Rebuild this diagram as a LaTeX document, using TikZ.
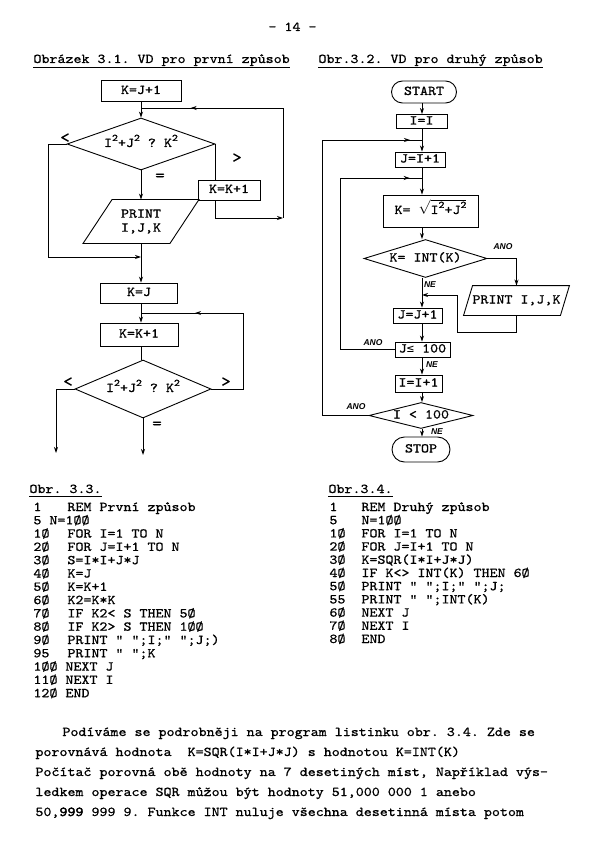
\documentclass[tikz,border=0pt]{standalone}
\usepackage{fontspec}
\setmainfont{lmmono10-regular.otf}[Ligatures=TeXOff, FakeBold=0.8, FakeStretch=1.13]
\setmonofont{lmmono10-regular.otf}[Ligatures=TeXOff, FakeBold=0.8, FakeStretch=1.13]
\newfontfamily\boldmono{lmmono10-regular.otf}[Ligatures=TeXOff, FakeBold=3, FakeStretch=1.13]
\newfontfamily\handfont{Liberation Sans}
\newfontfamily\symfont{DejaVu Sans Mono}
\usetikzlibrary{shapes.geometric,arrows.meta,decorations.markings}
\newcommand\supx[1]{\raisebox{0.45em}{\fontsize{10}{10}\selectfont #1}}
\frenchspacing
\begin{document}
\begin{tikzpicture}[x=1pt,y=-1pt,line width=0.9pt,
  every node/.style={font=\fontsize{13.5}{15}\selectfont},
  lbl/.style={anchor=west, inner sep=0pt, text height=0.6em, text depth=0pt},
  rbox/.style={draw, rectangle, inner sep=0pt, text height=0.6em, text depth=0pt},
  term/.style={rbox, rounded corners=#1},
  dia/.style={draw, diamond, inner sep=0pt, aspect=3, text height=0.6em, text depth=0pt},
  ghost/.style={rectangle, inner sep=0pt},
  hand/.style={inner sep=0pt, font=\handfont\bfseries\itshape\fontsize{8.5}{9}\selectfont},
  sign/.style={inner sep=0pt, font=\fontsize{16}{16}\selectfont},
  arr/.style={-{Stealth[length=6pt,width=4pt]}},
  midarrow/.style={postaction={decorate}, decoration={markings, mark=at position #1 with {\arrow{Stealth[length=6pt,width=4pt]}}}}]
\path[fill=white, use as bounding box] (0,0) rectangle (600,842);

% header and titles
\node[lbl] (pg) at (268,28) {- 14 -};
\node[lbl] (t1) at (33,60) {Obrázek 3.1. VD pro první způsob};
\node[lbl] (t2) at (318,60) {Obr.3.2. VD pro druhý způsob};
\draw[line width=0.8pt] ([yshift=-3.5pt]t1.south west) -- ([yshift=-3.5pt]t1.south east);
\draw[line width=0.8pt] ([yshift=-3.5pt]t2.south west) -- ([yshift=-3.5pt]t2.south east);

% ===== left flowchart =====
\node[rbox, minimum width=80pt, minimum height=21pt] (a1) at (141,91) {K=J+1};
\node[dia, minimum width=148pt, minimum height=52pt] (d1) at (141,144) {I\supx{2}+J\supx{2} ? K\supx{2}};
\node[rbox, minimum width=62pt, minimum height=20pt] (b2) at (229,190) {K=K+1};
\node[ghost, minimum width=86pt, minimum height=43pt, align=center, font=\fontsize{13.5}{14}\selectfont] (p1) at (141,221.5) {PRINT\\I,J,K};
\draw ([xshift=14.5pt]p1.north west) -- ([xshift=14.5pt]p1.north east) -- ([xshift=-14.5pt]p1.south east) -- ([xshift=-14.5pt]p1.south west) -- cycle;
\node[rbox, minimum width=77pt, minimum height=20pt] (b3) at (139,293) {K=J};
\node[rbox, minimum width=78pt, minimum height=23pt] (b4) at (139,334.5) {K=K+1};
\node[dia, minimum width=136pt, minimum height=58pt] (d2) at (143,389) {I\supx{2}+J\supx{2} ? K\supx{2}};

\coordinate (m1) at (141,108);
\coordinate (r1) at (283,218);
\coordinate (l1) at (48,257);
\coordinate (r2) at (243,313);
\coordinate (e1) at (141,455);
\coordinate (e2) at (56,453);

\draw[arr] (a1.south) -- (d1.north);
\draw[arr] (d1.south) -- (p1.north);
\draw (d1.east) -- (d1.east |- b2.north);
\draw[arr] (d1.east |- b2.south) |- (r1);
\draw (r1) -- (r1 |- m1);
\draw[midarrow=0.65] (r1 |- m1) -- (m1);
\draw (d1.west) -| (l1);
\draw[arr] (l1) -- (l1 -| p1.south);
\draw[arr] (p1.south) -- (p1.south |- b3.north);
\draw[arr] (p1.south |- b3.south) -- (p1.south |- b4.north);
\draw (p1.south |- b4.south) -- (p1.south |- d2.north);
\draw (d2.east) -| (r2);
\draw[midarrow=0.47] (r2) -- (r2 -| p1.south);
\draw[arr] (d2.south) -- (d2.south |- e1);
\draw[arr] (d2.west) -| (e2);

\node[sign] (lt1) at (65,138) {<};
\node[sign] (gt1) at (237,158) {>};
\node[sign] (eq1) at (160,177) {=};
\node[sign] (lt2) at (68,382) {<};
\node[sign] (gt2) at (226,382) {>};
\node[sign] (eq2) at (157,425) {=};

% ===== right flowchart =====
\coordinate (col) at (422,0);
\node[term=11pt, minimum width=65pt, minimum height=22pt] (s1) at (424,92) {START};
\node[rbox, minimum width=51pt, minimum height=14pt] (i1) at (421.5,121.5) {I=I};
\node[rbox, minimum width=50pt, minimum height=15pt] (j1) at (420,159.5) {J=I+1};
\node[rbox, minimum width=95pt, minimum height=32pt] (k1) at (430.5,211) {K= $\sqrt{\mbox{I\supx{2}+J\supx{2}}}$};
\node[dia, minimum width=123pt, minimum height=38pt] (d3) at (425.5,258.5) {K= INT(K)};
\node[ghost, minimum width=96pt, minimum height=29pt, text height=0.6em, text depth=0pt] (p2) at (516.5,300.5) {PRINT I,J,K};
\draw ([xshift=4.5pt]p2.north west) -- ([xshift=4.5pt]p2.north east) -- ([xshift=-4.5pt]p2.south east) -- ([xshift=-4.5pt]p2.south west) -- cycle;
\node[rbox, minimum width=49pt, minimum height=15pt] (j2) at (417.5,315.5) {J=J+1};
\node[rbox, minimum width=55pt, minimum height=15pt] (j3) at (422.5,349.5) {J{\symfont\fontsize{12}{12}\selectfont ≤} 100};
\node[rbox, minimum width=47pt, minimum height=17pt] (i2) at (418.5,383.5) {I=I+1};
\node[dia, minimum width=104pt, minimum height=26pt] (d4) at (421,415.5) {I < 100};
\node[term=12.5pt, minimum width=58pt, minimum height=25pt] (s2) at (421,449.5) {STOP};

\coordinate (q1) at (457,332);
\coordinate (q2) at (457,295);
\coordinate (o1) at (322,140);
\coordinate (o2) at (340,178);

\draw[arr] (col |- s1.south) -- (col |- i1.north);
\draw[arr] (col |- i1.south) -- (col |- j1.north);
\draw[arr] (col |- j1.south) -- (col |- k1.north);
\draw[arr] (col |- k1.south) -- (col |- d3.north);
\draw[arr] (col |- d3.south) -- (col |- j2.north);
\draw[arr] (col |- j2.south) -- (col |- j3.north);
\draw[arr] (col |- j3.south) -- (col |- i2.north);
\draw[arr] (col |- i2.south) -- (col |- d4.north);
\draw[arr] (col |- d4.south) -- (col |- s2.north);
\draw[arr] (d3.east) -| (p2.north);
\draw (p2.south) |- (q1) -- (q2);
\draw[arr] (q2) -- (col |- q2);
\draw (d4.west) -| (o1);
\draw[midarrow=0.88] (o1) -- (col |- o1);
\draw (j3.west) -| (o2);
\draw[midarrow=0.85] (o2) -- (col |- o2);

\node[hand] (h1) at (503,247) {ANO};
\node[hand] (h2) at (430,285) {NE};
\node[hand] (h3) at (373,343) {ANO};
\node[hand] (h4) at (432,365) {NE};
\node[hand] (h5) at (356,407) {ANO};
\node[hand] (h6) at (437,432) {NE};

% ===== listings =====
\node[lbl] (o33) at (29,490) {Obr. 3.3.};
\draw[line width=0.8pt] ([yshift=-3pt]o33.south west) -- ([yshift=-3pt]o33.south east);
\node[lbl] (o34) at (328,490) {Obr.3.4.};
\draw[line width=0.8pt] ([yshift=-3pt]o34.south west) -- ([yshift=-3pt]o34.south east);

\node[lbl] (ln0) at (33,508) {1};      \node[lbl] (ls0) at (67,508) {REM První způsob};
\node[lbl] (ln1) at (33,521.3) {5 N=1ØØ};
\node[lbl] (ln2) at (33,534.6) {1Ø};   \node[lbl] (ls2) at (67,534.6) {FOR I=1 TO N};
\node[lbl] (ln3) at (33,547.9) {2Ø};   \node[lbl] (ls3) at (67,547.9) {FOR J=I+1 TO N};
\node[lbl] (ln4) at (33,561.2) {3Ø};   \node[lbl] (ls4) at (67,561.2) {S=I*I+J*J};
\node[lbl] (ln5) at (33,574.5) {4Ø};   \node[lbl] (ls5) at (67,574.5) {K=J};
\node[lbl] (ln6) at (33,587.8) {5Ø};   \node[lbl] (ls6) at (67,587.8) {K=K+1};
\node[lbl] (ln7) at (33,601.1) {6Ø};   \node[lbl] (ls7) at (67,601.1) {K2=K*K};
\node[lbl] (ln8) at (33,614.4) {7Ø};   \node[lbl] (ls8) at (67,614.4) {IF K2< S THEN 5Ø};
\node[lbl] (ln9) at (33,627.7) {8Ø};   \node[lbl] (ls9) at (67,627.7) {IF K2> S THEN 1ØØ};
\node[lbl] (ln10) at (33,641) {9Ø};    \node[lbl] (ls10) at (67,641) {PRINT " ";I;" ";J;)};
\node[lbl] (ln11) at (33,654.3) {95};  \node[lbl] (ls11) at (67,654.3) {PRINT " ";K};
\node[lbl] (ln12) at (33,667.6) {1ØØ NEXT J};
\node[lbl] (ln13) at (33,680.9) {11Ø NEXT I};
\node[lbl] (ln14) at (33,694.2) {12Ø END};

\node[lbl] (rn0) at (329,508) {1};     \node[lbl] (rs0) at (361,508) {REM Druhý způsob};
\node[lbl] (rn1) at (329,521.2) {5};   \node[lbl] (rs1) at (361,521.2) {N=1ØØ};
\node[lbl] (rn2) at (329,534.4) {1Ø};  \node[lbl] (rs2) at (361,534.4) {FOR I=1 TO N};
\node[lbl] (rn3) at (329,547.6) {2Ø};  \node[lbl] (rs3) at (361,547.6) {FOR J=I+1 TO N};
\node[lbl] (rn4) at (329,560.8) {3Ø};  \node[lbl] (rs4) at (361,560.8) {K=SQR(I*I+J*J)};
\node[lbl] (rn5) at (329,574) {4Ø};    \node[lbl] (rs5) at (361,574) {IF K<> INT(K) THEN 6Ø};
\node[lbl] (rn6) at (329,587.2) {5Ø};  \node[lbl] (rs6) at (361,587.2) {PRINT " ";I;" ";J;};
\node[lbl] (rn7) at (329,600.4) {55};  \node[lbl] (rs7) at (361,600.4) {PRINT " ";INT(K)};
\node[lbl] (rn8) at (329,613.6) {6Ø};  \node[lbl] (rs8) at (361,613.6) {NEXT J};
\node[lbl] (rn9) at (329,626.8) {7Ø};  \node[lbl] (rs9) at (361,626.8) {NEXT I};
\node[lbl] (rn10) at (329,640) {8Ø};   \node[lbl] (rs10) at (361,640) {END};

% ===== body text =====
\node[lbl] (p01) at (62,733) {Podíváme se podrobněji na program listinku obr. 3.4. Zde se};
\node[lbl] (p02) at (35,753) {porovnává hodnota~ K=SQR(I*I+J*J) s hodnotou K=INT(K)};
\node[lbl] (p03) at (35,773) {Počítač porovná obě hodnoty na 7 desetiných míst, Například výs-};
\node[lbl] (p04) at (35,793) {ledkem operace SQR můžou být hodnoty 51,000 000 1 anebo};
\node[lbl] (p05) at (35,813) {50,{\boldmono 999} 999 9. Funkce INT nuluje všechna desetinná místa potom};
\end{tikzpicture}
\end{document}
